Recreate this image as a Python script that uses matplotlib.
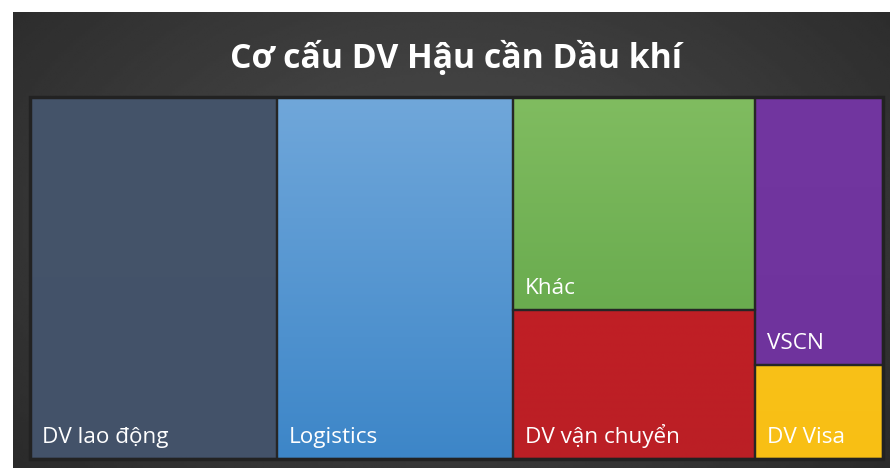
import numpy as np
import matplotlib
matplotlib.use("Agg")
import matplotlib.pyplot as plt
from matplotlib.patches import Rectangle

plt.rcParams['font.family'] = ['Open Sans', 'DejaVu Sans']

TITLE = "Cơ cấu DV Hậu cần Dầu khí"
labels = ["DV lao động", "Logistics", "Khác", "DV vận chuyển", "VSCN", "DV Visa"]
values = [29.0, 27.7, 16.7, 11.7, 11.1, 3.9]
columns = [[0], [1], [2, 3], [4, 5]]   # which cells stack in each column
top_colors = ["#455469", "#70a7da", "#80bc60", "#c01f26", "#7236a0", "#f9c118"]
bot_colors = ["#43526a", "#3d86c8", "#6aac4f", "#bb1f25", "#6f339d", "#f8bf14"]

W, H = 890, 468
fig = plt.figure(figsize=(W / 100, H / 100), dpi=100)

# background panel with radial gradient
bg = fig.add_axes([0, 0, 1, 1])
bg.set_xlim(0, W); bg.set_ylim(H, 0); bg.axis("off")
px0, py0 = 13, 12
yy, xx = np.mgrid[0:1:200j, 0:1:300j]
r = np.sqrt(((xx - 0.5) / 0.6) ** 2 + ((yy - 0.45) / 0.75) ** 2)
shade = np.clip(0.31 - 0.13 * r, 0.16, 0.31)
bg.imshow(shade, cmap="gray", vmin=0, vmax=1, extent=[px0, W, H, py0],
          aspect="auto", interpolation="bilinear")
bg.text((px0 + W) / 2 + 5, 58, TITLE, color="white", fontsize=24.3, fontweight="bold",
        ha="center", va="center")

# treemap area
tx0, ty0, tx1, ty1 = 30, 97, 883, 459
ax = fig.add_axes([tx0 / W, 1 - ty1 / H, (tx1 - tx0) / W, (ty1 - ty0) / H])
total = sum(values)
ax.set_xlim(0, total); ax.set_ylim(1, 0); ax.axis("off")

def grad(c1, c2):
    a = np.array(matplotlib.colors.to_rgb(c1)); b = np.array(matplotlib.colors.to_rgb(c2))
    t = np.linspace(0, 1, 64)[:, None]
    return (a * (1 - t) + b * t)[:, None, :]

x = 0
for col in columns:
    cw = sum(values[i] for i in col)
    y = 0
    for i in col:
        h = values[i] / cw
        ax.imshow(grad(top_colors[i], bot_colors[i]), extent=[x, x + cw, y + h, y],
                  aspect="auto", interpolation="bilinear", zorder=1)
        ax.add_patch(Rectangle((x, y), cw, h, fill=False, ec="#262626", lw=1.6, zorder=2))
        ax.text(x + total * 0.0135, y + h - 0.045, labels[i], color="white",
                fontsize=16.2, ha="left", va="baseline", zorder=3)
        y += h
    x += cw
ax.set_xlim(0, total); ax.set_ylim(1, 0)
ax.add_patch(Rectangle((0, 0), total, 1, fill=False, ec="#222222", lw=2.5, zorder=4,
                       clip_on=False))

fig.savefig("out.png", dpi=100, facecolor="white")
